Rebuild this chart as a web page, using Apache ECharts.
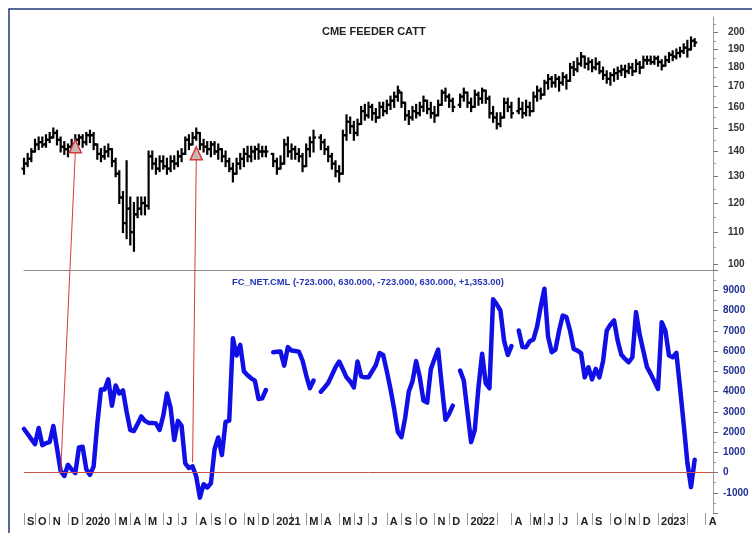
<!DOCTYPE html>
<html>
<head>
<meta charset="utf-8">
<script src="https://cdn.jsdelivr.net/npm/echarts@6/dist/echarts.min.js"></script>
<style>
  html, body { margin: 0; padding: 0; background: #fff; }
  #chart { width: 752px; height: 533px; }
</style>
</head>
<body>
<div id="chart"></div>
<script>
// weekly bars (Fridays), first one 2019-09-13
var weekCount = 189;

// one entry per month, Sep 2019 .. Apr 2023 ('' = tick only)
var monthLabels = ['S', 'O', 'N', 'D',
  '2020', '', 'M', 'A', 'M', 'J', 'J', 'A', 'S', 'O', 'N', 'D',
  '2021', '', 'M', 'A', 'M', 'J', 'J', 'A', 'S', 'O', 'N', 'D',
  '2022', '', '', 'A', 'M', 'J', 'J', 'A', 'S', 'O', 'N', 'D',
  '2023', '', '', 'A'];

// CME feeder cattle, weekly OHLC (null = no bar that week)
var priceOpen = [133, 135, 137, 140, 143, 144, 143, 145, 146, 148,
  145, 142, 141, 142, 143, 145, 146, 144, 147, 147,
  143, 139, 138, 140, 141, 136, 131, 122, 113, 118,
  110, 116, 118, 120, 119, 138, 135, 133, 136, 134,
  133, 136, 135, 138, 139, 145, 143, 146, 148, 143,
  142, 141, 143, 140, 141, 138, 136, 133, 131, 135,
  137, 139, 138, 140, 141, 140, 140, null, 139, 136,
  133, 135, 143, 140, 141, 139, 138, 134, 141, 144,
  null, 146, 144, 141, 138, 135, 132, 131, 147, 153,
  151, 148, 152, 158, 156, 160, 157, 155, 160, 158,
  161, 163, 165, 167, 162, 156, 155, 158, 157, 160,
  163, 159, 157, 156, 161, 167, 165, 163, null, 161,
  165, 167, 162, 160, 166, 164, 168, 164, 157, 155,
  152, 155, 162, 160, null, 158, 159, 157, 160, 158,
  165, 168, 166, 172, 174, 172, 174, 172, 175, 173,
  180, 179, 182, 186, 182, 183, 180, 182, 178, 176,
  174, 176, 177, 178, 179, 178, 180, 178, 182, 180,
  184, 184, 183, 185, 183, 181, 184, 187, 186, 188,
  189, 191, 190, 195];
var priceHigh = [137, 139, 141, 145, 146, 146, 147, 148, 150, 149,
  146, 144, 143, 145, 147, 147, 147, 148, 149, 148,
  143, 141, 142, 143, 141, 137, 132, 124, 136, 122,
  120, 122, 122, 122, 140, 140, 137, 138, 138, 137,
  138, 138, 140, 141, 146, 147, 148, 150, 148, 145,
  144, 144, 144, 143, 141, 140, 137, 135, 137, 139,
  141, 142, 142, 142, 143, 142, 142, null, 139, 137,
  138, 145, 146, 143, 142, 141, 139, 143, 146, 149,
  null, 147, 145, 142, 139, 136, 134, 149, 156, 155,
  153, 154, 160, 161, 162, 161, 159, 162, 162, 163,
  165, 167, 170, 167, 162, 158, 160, 161, 162, 165,
  163, 162, 160, 163, 168, 169, 166, 164, null, 166,
  169, 167, 164, 168, 167, 169, 168, 165, 160, 157,
  157, 164, 164, 162, null, 164, 162, 163, 162, 167,
  170, 169, 173, 176, 175, 176, 175, 177, 176, 182,
  183, 185, 188, 186, 185, 184, 185, 183, 180, 178,
  177, 179, 180, 181, 181, 182, 182, 184, 183, 186,
  186, 186, 186, 186, 184, 186, 188, 189, 190, 191,
  193, 195, 197, 196];
var priceLow = [131, 134, 136, 140, 141, 142, 142, 144, 146, 143,
  140, 139, 138, 140, 142, 143, 142, 143, 144, 141,
  137, 136, 137, 138, 134, 130, 120, 110, 108, 106,
  104, 115, 116, 116, 118, 133, 131, 132, 133, 131,
  132, 133, 134, 136, 139, 141, 143, 145, 141, 140,
  139, 138, 139, 137, 136, 134, 132, 128, 131, 133,
  134, 136, 136, 137, 137, 138, 138, null, 134, 131,
  133, 135, 138, 137, 137, 136, 132, 134, 138, 140,
  null, 141, 139, 136, 133, 130, 128, 131, 145, 148,
  145, 147, 152, 154, 155, 154, 153, 155, 156, 157,
  159, 160, 163, 160, 154, 152, 154, 155, 156, 158,
  157, 155, 153, 156, 161, 163, 160, 158, null, 160,
  163, 160, 158, 160, 161, 162, 162, 155, 153, 150,
  151, 155, 158, 155, null, 157, 155, 156, 156, 158,
  163, 164, 166, 169, 170, 170, 168, 171, 169, 173,
  176, 178, 181, 180, 179, 178, 179, 177, 174, 172,
  171, 173, 174, 176, 175, 177, 176, 178, 177, 180,
  182, 182, 182, 181, 179, 181, 183, 184, 185, 186,
  188, 186, 190, 192];
var priceClose = [135, 137, 140, 143, 144, 143, 145, 146, 148, 145,
  142, 141, 142, 143, 145, 146, 144, 147, 147, 143,
  139, 138, 140, 141, 136, 131, 122, 113, 118, 110,
  116, 118, 120, 119, 138, 135, 133, 136, 134, 133,
  136, 135, 138, 139, 145, 143, 146, 148, 143, 142,
  141, 143, 140, 141, 138, 136, 133, 131, 135, 137,
  139, 138, 140, 141, 140, 140, 140, null, 136, 133,
  135, 143, 140, 141, 139, 138, 134, 141, 144, 146,
  null, 144, 141, 138, 135, 132, 131, 147, 153, 151,
  148, 152, 158, 156, 160, 157, 155, 160, 158, 161,
  163, 165, 168, 162, 156, 155, 158, 157, 160, 163,
  159, 157, 156, 161, 167, 165, 163, 160, null, 165,
  167, 162, 160, 166, 164, 168, 164, 157, 155, 152,
  155, 162, 160, 157, null, 159, 157, 160, 158, 165,
  168, 166, 172, 174, 172, 174, 172, 175, 173, 180,
  179, 182, 186, 182, 183, 180, 182, 178, 176, 174,
  176, 177, 178, 179, 178, 180, 178, 182, 180, 184,
  184, 183, 185, 183, 181, 184, 187, 186, 188, 189,
  191, 190, 195, 194];

// FC_NET.CML, weekly net position
var netLong = [2150, 1900, 1650, 1400, 2200, 1350, 1450, 1500, 2300, 1200,
  80, -170, 380, 150, -30, 1240, 1270, 160, -120, 300,
  2400, 4100, 4100, 4600, 3300, 4300, 3900, 4050, 3000, 2100,
  2050, 2400, 2770, 2550, 2450, 2450, 2420, 2100, 2800, 3900,
  3200, 1600, 2550, 2300, 450, 220, 300, -200, -1240, -580,
  -740, -530, 1150, 1730, 860, 2500, 2560, 6630, 5775, 6300,
  5000, 4800, 4650, 4540, 3630, 3660, 4075, null, 5940, 5960,
  5970, 5280, 6190, 6020, 6000, 5970, 5530, 4800, 4160, 4540,
  null, 3990, 4200, 4420, 4800, 5200, 5480, 5100, 4700, 4500,
  4200, 5480, 4750, 4700, 4700, 5000, 5300, 5900, 5800, 5000,
  4125, 3135, 2000, 1750, 2700, 4000, 4500, 5500, 4700, 3550,
  3450, 5100, 5600, 6070, 4300, 2600, 2900, 3300, null, 5030,
  4540, 3000, 1500, 2100, 4200, 5860, 4400, 4160, 8550, 8300,
  8000, 6500, 5800, 6240, null, 7010, 6200, 6190, 6480, 6570,
  7200, 8200, 9075, 6700, 5940, 6070, 7000, 7750, 7670, 7000,
  6100, 6020, 5900, 4700, 5200, 4600, 5115, 4700, 5500, 7000,
  7300, 7510, 6500, 5810, 5610, 5445, 5690, 7920, 6800, 6000,
  5200, 4870, 4500, 4125, 7425, 7010, 5775, 5690, 5910, 4200,
  2400, 500, -723, 630];

var priceTicks = [100, 110, 120, 130, 140, 150, 160, 170, 180, 190, 200];
var priceMinorTicks = [105, 115, 125, 135, 145, 155, 165, 175, 185, 195, 205];

// red arrows: from a week on the net line up to a triangle on the price bars
var arrows = [
  { fromWeek: 10, fromNet: 0, toWeek: 14, toPrice: 145 },
  { fromWeek: 46, fromNet: 500, toWeek: 47, toPrice: 142 }
];

var weeks = [];
var tickAt = {};
var labelAt = {};
var month = -1, prevKey = null;
for (var i = 0; i < weekCount; i++) {
  var d = new Date(Date.UTC(2019, 8, 13 + 7 * i));
  var key = d.getUTCFullYear() * 12 + d.getUTCMonth();
  if (key !== prevKey) {
    month++;
    prevKey = key;
    tickAt[i] = true;
    labelAt[i] = monthLabels[month];
  }
  weeks.push(d.toISOString().slice(0, 10));
}

var ohlc = [];
for (var j = 0; j < priceClose.length; j++) {
  if (priceClose[j] == null) continue;
  ohlc.push([j, priceOpen[j], priceClose[j], priceLow[j], priceHigh[j]]);
}

var font = 'Arial, "Liberation Sans", sans-serif';

function renderBar(params, api) {
  var x = api.value(0);
  var o = api.coord([x, api.value(1)]);
  var c = api.coord([x, api.value(2)]);
  var l = api.coord([x, api.value(3)]);
  var h = api.coord([x, api.value(4)]);
  var style = { stroke: '#000', lineWidth: 2.2 };
  return {
    type: 'group',
    children: [
      { type: 'line', shape: { x1: h[0], y1: h[1] - 1, x2: l[0], y2: l[1] + 1 }, style: style },
      { type: 'line', shape: { x1: o[0] - 2.5, y1: o[1], x2: o[0], y2: o[1] }, style: style },
      { type: 'line', shape: { x1: c[0], y1: c[1], x2: c[0] + 2.5, y2: c[1] }, style: style }
    ]
  };
}

var chart = echarts.init(document.getElementById('chart'));
chart.setOption({
  animation: false,
  backgroundColor: '#fff',
  title: [
    {
      text: 'CME FEEDER CATT',
      left: 317,
      top: 21,
      textStyle: { fontFamily: font, fontSize: 11, fontWeight: 'bold', color: '#222' }
    },
    {
      text: 'FC_NET.CML (-723.000, 630.000, -723.000, 630.000, +1,353.00)',
      left: 227,
      top: 273,
      textStyle: { fontFamily: font, fontSize: 9.4, fontWeight: 'bold', color: '#2335b8' }
    }
  ],
  grid: [
    { left: 24, right: 39, top: 17, height: 253 },
    { left: 24, right: 39, top: 270, height: 243 }
  ],
  xAxis: [
    {
      type: 'category', gridIndex: 0, data: weeks, boundaryGap: false,
      axisLine: { show: true, onZero: false, lineStyle: { color: '#8a8a8a', width: 1 } },
      axisTick: { show: false }, axisLabel: { show: false }, splitLine: { show: false }
    },
    {
      type: 'category', gridIndex: 1, data: weeks, boundaryGap: false,
      axisLine: { show: false, onZero: false },
      axisTick: {
        show: true, length: 12,
        interval: function (idx) { return !!tickAt[idx]; },
        lineStyle: { color: '#999' }
      },
      axisLabel: {
        interval: function (idx) { return !!labelAt[idx]; },
        formatter: function (v, idx) { return labelAt[idx] || ''; },
        align: 'left', padding: [0, 0, 0, 3], margin: 3,
        fontFamily: font, fontSize: 11, fontWeight: 'bold', color: '#222'
      },
      splitLine: { show: false }
    }
  ],
  yAxis: [
    {
      type: 'log', logBase: 10, gridIndex: 0, position: 'right', min: 98.2, max: 209.4,
      axisLine: { show: true, lineStyle: { color: '#9a9a9a' } },
      axisTick: { show: true, length: 5, customValues: priceTicks, lineStyle: { color: '#777' } },
      axisLabel: {
        customValues: priceTicks, margin: 15,
        fontFamily: font, fontSize: 10, fontWeight: 'bold', color: '#333'
      },
      splitLine: { show: false }
    },
    {
      type: 'log', logBase: 10, gridIndex: 0, position: 'right', min: 98.2, max: 209.4,
      axisLine: { show: false },
      axisTick: { show: true, length: 3, customValues: priceMinorTicks, lineStyle: { color: '#999' } },
      axisLabel: { show: false },
      splitLine: { show: false }
    },
    {
      type: 'value', gridIndex: 1, position: 'right', min: -2000, max: 10000, interval: 1000,
      axisLine: { show: true, lineStyle: { color: '#9a9a9a' } },
      axisTick: { show: true, length: 5, lineStyle: { color: '#777' } },
      minorTick: { show: true, splitNumber: 2, length: 3, lineStyle: { color: '#999' } },
      axisLabel: {
        margin: 10,
        formatter: function (v) { return (v >= -1000 && v <= 9000) ? String(v) : ''; },
        fontFamily: font, fontSize: 10, fontWeight: 'bold', color: '#1f2f8f'
      },
      splitLine: { show: false }
    }
  ],
  series: [
    {
      name: 'CME FEEDER CATT',
      type: 'custom',
      xAxisIndex: 0,
      yAxisIndex: 0,
      renderItem: renderBar,
      encode: { x: 0, y: [1, 2, 3, 4] },
      data: ohlc
    },
    {
      name: 'FC_NET.CML',
      type: 'line',
      xAxisIndex: 1,
      yAxisIndex: 2,
      data: netLong,
      symbol: 'none',
      connectNulls: false,
      lineStyle: { color: '#1010e6', width: 4.5, join: 'round', cap: 'round' },
      markLine: {
        silent: true,
        symbol: 'none',
        label: { show: false },
        lineStyle: { color: '#c8504c', width: 1, type: 'solid' },
        data: [{ yAxis: 0 }]
      }
    }
  ]
});

// frame and arrows, placed through the axes
var graphics = [
  {
    type: 'polyline', silent: true,
    shape: { points: [[9, 533], [9, 9], [752, 9]] },
    style: { stroke: '#23397a', lineWidth: 1.5, fill: null }
  }
];
arrows.forEach(function (a) {
  var p0 = chart.convertToPixel({ xAxisIndex: 1, yAxisIndex: 2 }, [a.fromWeek, a.fromNet]);
  var apex = chart.convertToPixel({ xAxisIndex: 0, yAxisIndex: 0 }, [a.toWeek, a.toPrice]);
  var baseY = apex[1] + 13;
  graphics.push({
    type: 'line', silent: true, z: 10,
    shape: { x1: p0[0], y1: p0[1], x2: apex[0], y2: baseY },
    style: { stroke: '#d23c3c', lineWidth: 1 }
  });
  graphics.push({
    type: 'polygon', silent: true, z: 11,
    shape: { points: [[apex[0], apex[1]], [apex[0] + 6, baseY], [apex[0] - 6, baseY]] },
    style: { fill: '#cdb3b3', stroke: '#d23c3c', lineWidth: 1.5 }
  });
});
chart.setOption({ graphic: graphics });
</script>
</body>
</html>
